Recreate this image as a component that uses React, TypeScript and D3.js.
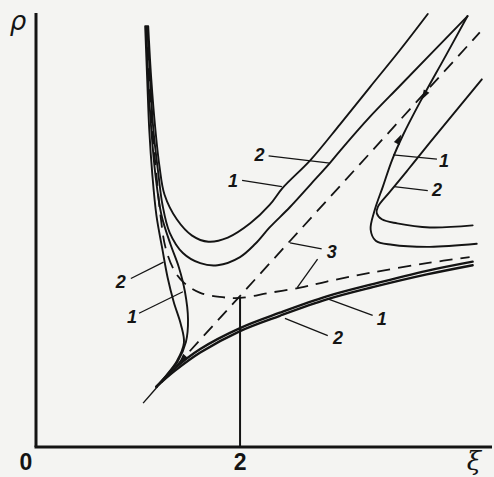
import React from 'react';
import * as d3 from 'd3';

type P = [number, number];

const W = 494;
const H = 477;

// Axis extents (ξ horizontal, ρ vertical)
const xDomain: [number, number] = [0, 4.45];
const yDomain: [number, number] = [0, 4.25];
const xTickValues = [0, 2];
const xTickLabels = ['0', '2'];
const xAxisTitle = 'ξ';
const yAxisTitle = 'ρ';

// Left branches running down to the cusp (case 1 and case 2)
const leftBranch1: P[] = [
  [1.08, 4.12], [1.10, 3.60], [1.13, 3.11], [1.17, 2.67], [1.23, 2.27], [1.32, 1.98],
  [1.40, 1.76], [1.46, 1.52], [1.49, 1.25], [1.47, 1.03], [1.39, 0.84], [1.28, 0.70], [1.18, 0.59],
];
const leftBranch2: P[] = [
  [1.07, 4.12], [1.09, 3.60], [1.11, 3.11], [1.14, 2.67], [1.18, 2.27], [1.24, 1.93],
  [1.29, 1.66], [1.35, 1.42], [1.42, 1.20], [1.45, 1.02], [1.38, 0.84], [1.275, 0.70], [1.18, 0.59],
];

// Lower branches leaving the cusp to the right
const lowerBranch1: P[] = [
  [1.18, 0.59], [1.36, 0.77], [1.61, 0.96], [2.00, 1.165], [2.39, 1.315], [2.85, 1.475],
  [3.30, 1.595], [3.83, 1.725], [4.28, 1.815],
];
const lowerBranch2: P[] = [
  [1.18, 0.59], [1.36, 0.745], [1.61, 0.925], [2.00, 1.135], [2.39, 1.285], [2.85, 1.445],
  [3.30, 1.565], [3.83, 1.69], [4.28, 1.78],
];

// Upper U-shaped branches
const upperBranch1: P[] = [
  [1.10, 4.12], [1.13, 3.60], [1.17, 3.11], [1.21, 2.75], [1.26, 2.47], [1.38, 2.23], [1.53, 2.07],
  [1.69, 2.01], [1.88, 2.05], [2.10, 2.19], [2.29, 2.37], [2.42, 2.54], [2.69, 2.81],
  [2.98, 3.16], [3.27, 3.52], [3.57, 3.89], [3.84, 4.24],
];
const upperBranch2: P[] = [
  [1.09, 4.12], [1.12, 3.60], [1.15, 3.11], [1.20, 2.67], [1.24, 2.37], [1.31, 2.10], [1.44, 1.90],
  [1.61, 1.80], [1.78, 1.78], [2.00, 1.86], [2.15, 1.99], [2.29, 2.15], [2.49, 2.35],
  [2.69, 2.57], [2.88, 2.78], [2.98, 2.90], [3.27, 3.23], [3.57, 3.54], [4.23, 4.22],
];

// Right branches
const rightBranch1: P[] = [
  [4.23, 4.22], [4.01, 3.82], [3.76, 3.37], [3.60, 3.06], [3.49, 2.81], [3.40, 2.55],
  [3.32, 2.32], [3.28, 2.13], [3.33, 2.02], [3.49, 1.98], [3.86, 1.96], [4.32, 1.99],
];
const rightBranch2: P[] = [
  [4.37, 3.60], [3.86, 2.98], [3.65, 2.72], [3.47, 2.50], [3.35, 2.35], [3.34, 2.29],
  [3.39, 2.23], [3.54, 2.19], [3.86, 2.15], [4.28, 2.17],
];

// Separatrix (3) and asymptote (3)
const separatrix: P[] = [
  [1.08, 4.12], [1.11, 3.60], [1.14, 3.11], [1.18, 2.67], [1.22, 2.27], [1.27, 1.95],
  [1.36, 1.72], [1.46, 1.60], [1.61, 1.51], [1.80, 1.47], [2.00, 1.46], [2.29, 1.51],
  [2.59, 1.56], [2.85, 1.62], [3.30, 1.71], [3.83, 1.80], [4.25, 1.86],
];
const asymptote: P[] = [[1.05, 0.43], [4.35, 4.06]];
const cuspPoint: P = [1.19, 0.59];
const markerXi = 2;
const markerRho = 1.47;

// Direction arrows: position on the curve and a second point giving the direction
const arrows: { at: P; toward: P }[] = [
  { at: [3.78, 3.40], toward: [3.70, 3.26] },
  { at: [3.58, 3.06], toward: [3.64, 3.18] },
  { at: [1.40, 0.82], toward: [1.30, 0.71] },
];

// Curve labels with leader lines
const labels: { text: string; at: P; from: P; to: P }[] = [
  { text: '2', at: [2.19, 2.86], from: [2.28, 2.85], to: [2.88, 2.78] },
  { text: '1', at: [1.93, 2.61], from: [2.02, 2.61], to: [2.41, 2.55] },
  { text: '1', at: [4.00, 2.81], from: [3.93, 2.82], to: [3.50, 2.86] },
  { text: '2', at: [3.93, 2.52], from: [3.84, 2.51], to: [3.51, 2.55] },
  { text: '3', at: [2.90, 1.91], from: [2.80, 1.94], to: [2.49, 2.00] },
  { text: '', at: [2.90, 1.91], from: [2.76, 1.84], to: [2.56, 1.56] },
  { text: '2', at: [0.83, 1.62], from: [0.93, 1.65], to: [1.25, 1.81] },
  { text: '1', at: [0.94, 1.28], from: [1.01, 1.31], to: [1.44, 1.52] },
  { text: '1', at: [3.39, 1.26], from: [3.30, 1.29], to: [2.86, 1.45] },
  { text: '2', at: [2.96, 1.07], from: [2.86, 1.09], to: [2.44, 1.26] },
];

const INK = '#141414';

export default function App() {
  const x = d3.scaleLinear().domain(xDomain).range([36, 490]);
  const y = d3.scaleLinear().domain(yDomain).range([447, 13]);

  const smooth = d3
    .line<P>()
    .x((d) => x(d[0]))
    .y((d) => y(d[1]))
    .curve(d3.curveCatmullRom.alpha(0.5));
  const straight = d3
    .line<P>()
    .x((d) => x(d[0]))
    .y((d) => y(d[1]));

  const thinCurves = [leftBranch1, leftBranch2, upperBranch1, upperBranch2, rightBranch1, rightBranch2];
  const heavyCurves = [lowerBranch1, lowerBranch2];

  const arrowPath = (a: { at: P; toward: P }) => {
    const px = x(a.at[0]);
    const py = y(a.at[1]);
    const dx = x(a.toward[0]) - px;
    const dy = y(a.toward[1]) - py;
    const len = Math.hypot(dx, dy) || 1;
    const ux = dx / len;
    const uy = dy / len;
    const L = 10;
    const hw = 3.2;
    const bx = px - ux * L;
    const by = py - uy * L;
    return `M${px},${py}L${bx - uy * hw},${by + ux * hw}L${bx + uy * hw},${by - ux * hw}Z`;
  };

  const asymStart = asymptote[0];
  const asymEnd = asymptote[1];

  return (
    <svg
      width={W}
      height={H}
      style={{ position: 'absolute', left: 0, top: 0, background: '#f4f4f2' }}
      fontFamily="'Liberation Sans', Arial, sans-serif"
    >
      <rect width={W} height={H} fill="#f4f4f2" />

      {/* axes */}
      <line x1={x(0)} y1={y(0)} x2={x(0)} y2={y(yDomain[1])} stroke={INK} strokeWidth={3} />
      <line x1={x(0) - 1.5} y1={y(0)} x2={x(xDomain[1]) + 2} y2={y(0)} stroke={INK} strokeWidth={3} />

      {/* ξ = 2 marker */}
      <line x1={x(markerXi)} y1={y(0)} x2={x(markerXi)} y2={y(markerRho)} stroke={INK} strokeWidth={2} />

      {/* asymptote: solid below the cusp, dashed above */}
      <path d={straight([asymStart, cuspPoint]) || ''} fill="none" stroke={INK} strokeWidth={1.4} />
      <path
        d={straight([cuspPoint, asymEnd]) || ''}
        fill="none"
        stroke={INK}
        strokeWidth={1.8}
        strokeDasharray="13 8"
        strokeDashoffset={-6}
      />

      {/* separatrix */}
      <path d={smooth(separatrix) || ''} fill="none" stroke={INK} strokeWidth={1.8} strokeDasharray="13 8" />

      {thinCurves.map((c, i) => (
        <path key={i} d={smooth(c) || ''} fill="none" stroke={INK} strokeWidth={1.9} strokeLinecap="round" />
      ))}
      {heavyCurves.map((c, i) => (
        <path key={i} d={smooth(c) || ''} fill="none" stroke={INK} strokeWidth={2.4} strokeLinecap="round" />
      ))}

      {arrows.map((a, i) => (
        <path key={i} d={arrowPath(a)} fill={INK} />
      ))}

      {labels.map((l, i) => (
        <g key={i}>
          <line
            x1={x(l.from[0])}
            y1={y(l.from[1])}
            x2={x(l.to[0])}
            y2={y(l.to[1])}
            stroke={INK}
            strokeWidth={1.3}
          />
          {l.text && (
            <text
              x={x(l.at[0])}
              y={y(l.at[1])}
              dy="0.36em"
              textAnchor="middle"
              fontSize={18}
              fontStyle="italic"
              fontWeight={600}
              fill={INK}
            >
              {l.text}
            </text>
          )}
        </g>
      ))}

      {/* tick labels */}
      {xTickValues.map((v, i) => (
        <text
          key={v}
          x={v === 0 ? x(v) - 10 : x(v)}
          y={470}
          textAnchor="middle"
          fontSize={23}
          fontWeight={700}
          fill={INK}
        >
          {xTickLabels[i]}
        </text>
      ))}
      <text x={474} y={470} textAnchor="middle" fontSize={26} fontStyle="italic" fill={INK}
        fontFamily="'DejaVu Serif', 'Liberation Serif', serif">
        {xAxisTitle}
      </text>
      <text x={18} y={30} textAnchor="middle" fontSize={26} fontStyle="italic" fill={INK}
        fontFamily="'DejaVu Sans', 'Liberation Sans', sans-serif">
        {yAxisTitle}
      </text>
    </svg>
  );
}
